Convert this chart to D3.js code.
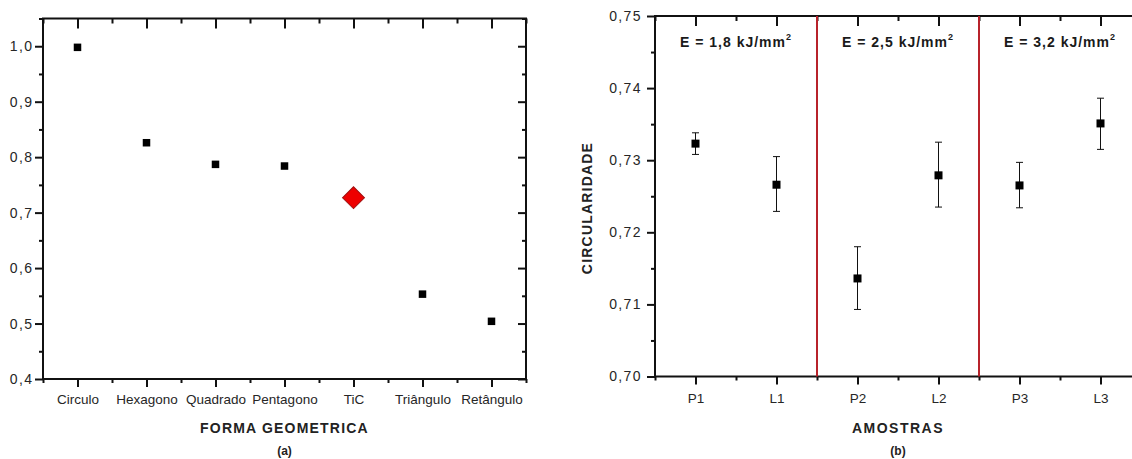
<!DOCTYPE html>
<html>
<head>
<meta charset="utf-8">
<script src="https://cdn.jsdelivr.net/npm/d3@7"></script>
<style>
  html, body { margin: 0; padding: 0; background: #fff; }
  svg { display: block; font-family: "Liberation Sans", Arial, sans-serif; }
  .axis path, .axis line { stroke: #111; }
  .axis text { fill: #262626; font-size: 13.5px; }
  .yax text { font-size: 14px; letter-spacing: 1.4px; }
</style>
</head>
<body>
<svg id="chart" width="1132" height="459"></svg>
<script>
// ---------- data ----------
const shapes = ["Circulo", "Hexagono", "Quadrado", "Pentagono", "TiC", "Triângulo", "Retângulo"];
const circularity = [0.998, 0.826, 0.787, 0.784, 0.727, 0.553, 0.504];
const highlightShape = "TiC";
const yTicksA = [0.4, 0.5, 0.6, 0.7, 0.8, 0.9, 1.0];

const samples = ["P1", "L1", "P2", "L2", "P3", "L3"];
const meanB = [0.7323, 0.7266, 0.7136, 0.7279, 0.7265, 0.7351];
const upperB = [0.7338, 0.7305, 0.7180, 0.7325, 0.7297, 0.7386];
const lowerB = [0.7308, 0.7229, 0.7093, 0.7235, 0.7234, 0.7315];
const yTicksB = [0.70, 0.71, 0.72, 0.73, 0.74, 0.75];
const energyLabels = ["E = 1,8 kJ/mm", "E = 2,5 kJ/mm", "E = 3,2 kJ/mm"];
const groupSize = 2;

const locale = d3.formatLocale({ decimal: ",", thousands: ".", grouping: [3], currency: ["", ""] });

const svg = d3.select("#chart");

function frame(g, x, y, opts) {
  const [x0, x1] = x.range();
  const [y0, y1] = y.range(); // y0 bottom, y1 top
  const xd = x.domain(), yd = y.domain();
  const xMinor = d3.range(xd[0], xd[1] + 1e-9, opts.xStep / 2).filter(v => !opts.xMajor.some(m => Math.abs(m - v) < 1e-9));
  const yMinor = d3.range(yd[0], yd[1] + 1e-9, opts.yStep / 2).map(v => +v.toFixed(5)).filter(v => !opts.yMajor.some(m => Math.abs(m - v) < 1e-9));

  const mk = (axisFn, scale, vals, size, fmt, pad, tx, ty, cls) => {
    const a = axisFn(scale).tickValues(vals).tickSizeInner(size).tickSizeOuter(0).tickPadding(pad);
    a.tickFormat(fmt || (() => ""));
    const gg = g.append("g").attr("class", "axis " + (cls || "")).attr("transform", `translate(${tx},${ty})`).call(a);
    gg.selectAll("line").attr("stroke-width", opts.sw);
    gg.select("path").remove();
    return gg;
  };
  // bottom (outward)
  mk(d3.axisBottom, x, opts.xMajor, opts.tMaj, opts.xFmt, opts.xPad, 0, y0);
  mk(d3.axisBottom, x, xMinor, opts.tMin, null, 0, 0, y0);
  // top (inward)
  mk(d3.axisBottom, x, opts.xMajor, opts.tTopMaj, null, 0, 0, y1);
  mk(d3.axisBottom, x, xMinor, opts.tTopMin, null, 0, 0, y1);
  // left (outward)
  mk(d3.axisLeft, y, opts.yMajor, opts.tMaj, opts.yFmt, opts.yPad, x0, 0, "yax");
  mk(d3.axisLeft, y, yMinor, opts.tMin, null, 0, x0, 0);
  // right (inward)
  mk(d3.axisLeft, y, opts.yMajor, opts.tRMaj, null, 0, x1, 0);
  mk(d3.axisLeft, y, yMinor, opts.tRMin, null, 0, x1, 0);
  g.append("rect").attr("x", x0).attr("y", y1).attr("width", x1 - x0).attr("height", y0 - y1)
    .attr("fill", "none").attr("stroke", "#111").attr("stroke-width", opts.sw);
}

// ---------- chart (a) ----------
{
  const g = svg.append("g");
  const x = d3.scaleLinear().domain([0.5, shapes.length + 0.5]).range([43, 526]);
  const y = d3.scaleLinear().domain([0.4, 1.05]).range([379, 18.5]);
  const fmt = locale.format(".1f");
  frame(g, x, y, {
    xStep: 1, yStep: 0.1,
    xMajor: shapes.map((d, i) => i + 1), yMajor: yTicksA,
    xFmt: v => shapes[v - 1], yFmt: fmt,
    tMaj: 8, tMin: 4, tTopMaj: 10, tTopMin: 5, tRMaj: 8, tRMin: 4,
    xPad: 7, yPad: 1.5, sw: 2
  });

  g.selectAll("rect.pt").data(shapes.map((s, i) => ({ s, v: circularity[i], i })).filter(d => d.s !== highlightShape))
    .enter().append("rect").attr("class", "pt")
    .attr("x", d => x(d.i + 1) - 3.75).attr("y", d => y(d.v) - 3.75)
    .attr("width", 7.5).attr("height", 7.5).attr("fill", "#000");

  const hi = shapes.indexOf(highlightShape);
  g.append("path")
    .attr("d", d3.symbol().type(d3.symbolSquare).size(240)())
    .attr("transform", `translate(${x(hi + 1)},${y(circularity[hi])}) rotate(45)`)
    .attr("fill", "#ee0000").attr("stroke", "#a01010").attr("stroke-width", 1);

  g.append("text").attr("x", (43 + 526) / 2).attr("y", 433).attr("text-anchor", "middle")
    .attr("font-weight", "bold").attr("font-size", 14).attr("letter-spacing", 1.2).attr("fill", "#222")
    .text("FORMA GEOMETRICA");
  g.append("text").attr("x", (43 + 526) / 2).attr("y", 455).attr("text-anchor", "middle")
    .attr("font-weight", "bold").attr("font-size", 12).attr("fill", "#222").text("(a)");
}

// ---------- chart (b) ----------
{
  const g = svg.append("g");
  const x = d3.scaleLinear().domain([0.5, samples.length + 0.5]).range([655, 1141]);
  const y = d3.scaleLinear().domain([0.70, 0.75]).range([376.5, 16]);
  const fmt = locale.format(".2f");
  frame(g, x, y, {
    xStep: 1, yStep: 0.01,
    xMajor: samples.map((d, i) => i + 1), yMajor: yTicksB,
    xFmt: v => samples[v - 1], yFmt: fmt,
    tMaj: 8, tMin: 4, tTopMaj: 10, tTopMin: 5, tRMaj: 8, tRMin: 4,
    xPad: 9, yPad: 5, sw: 2
  });

  const nGroups = samples.length / groupSize;
  for (let k = 1; k < nGroups; k++) {
    const xv = x(k * groupSize + 0.5);
    g.append("line").attr("x1", xv).attr("x2", xv).attr("y1", y(0.75)).attr("y2", y(0.70))
      .attr("stroke", "#b8232b").attr("stroke-width", 2);
  }
  for (let k = 0; k < nGroups; k++) {
    const cx = (x(k * groupSize + 0.5) + x((k + 1) * groupSize + 0.5)) / 2;
    const t = g.append("text").attr("x", cx).attr("y", 47).attr("text-anchor", "middle")
      .attr("font-weight", "bold").attr("font-size", 14).attr("letter-spacing", 1).attr("fill", "#1a1a1a");
    t.append("tspan").text(energyLabels[k]);
    t.append("tspan").attr("font-size", 9).attr("dy", -7).text("2");
  }

  const data = samples.map((s, i) => ({ s, i, m: meanB[i], hi: upperB[i], lo: lowerB[i] }));
  const eb = g.selectAll("g.eb").data(data).enter().append("g").attr("class", "eb");
  eb.append("line").attr("x1", d => x(d.i + 1)).attr("x2", d => x(d.i + 1))
    .attr("y1", d => y(d.hi)).attr("y2", d => y(d.lo)).attr("stroke", "#111").attr("stroke-width", 1);
  eb.append("line").attr("x1", d => x(d.i + 1) - 3.5).attr("x2", d => x(d.i + 1) + 3.5)
    .attr("y1", d => y(d.hi)).attr("y2", d => y(d.hi)).attr("stroke", "#111").attr("stroke-width", 1);
  eb.append("line").attr("x1", d => x(d.i + 1) - 3.5).attr("x2", d => x(d.i + 1) + 3.5)
    .attr("y1", d => y(d.lo)).attr("y2", d => y(d.lo)).attr("stroke", "#111").attr("stroke-width", 1);
  eb.append("rect").attr("x", d => x(d.i + 1) - 4).attr("y", d => y(d.m) - 4)
    .attr("width", 8).attr("height", 8).attr("fill", "#000");

  g.append("text").attr("transform", `translate(592,208) rotate(-90)`).attr("text-anchor", "middle")
    .attr("font-weight", "bold").attr("font-size", 14).attr("letter-spacing", 1.2).attr("fill", "#222")
    .text("CIRCULARIDADE");
  g.append("text").attr("x", 898).attr("y", 433).attr("text-anchor", "middle")
    .attr("font-weight", "bold").attr("font-size", 14).attr("letter-spacing", 1.5).attr("fill", "#222")
    .text("AMOSTRAS");
  g.append("text").attr("x", 898).attr("y", 455).attr("text-anchor", "middle")
    .attr("font-weight", "bold").attr("font-size", 12).attr("fill", "#222").text("(b)");
}
</script>
</body>
</html>
